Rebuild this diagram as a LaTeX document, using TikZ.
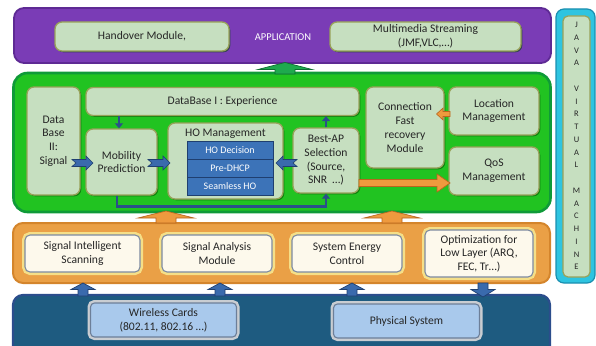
\documentclass[tikz,border=0pt]{standalone}
\usepackage{fontspec}
\setmainfont{Carlito}
\usetikzlibrary{shadows,arrows.meta,calc}
\definecolor{purpleband}{HTML}{7A3CB6}
\definecolor{purpleedge}{HTML}{5E2A94}
\definecolor{greenband}{HTML}{21C321}
\definecolor{greenedge}{HTML}{0F9A38}
\definecolor{boxgreen}{HTML}{C6DFC0}
\definecolor{boxedge}{HTML}{98A25A}
\definecolor{orangeband}{HTML}{EAA046}
\definecolor{orangeedge}{HTML}{D4852C}
\definecolor{cream}{HTML}{FDF9EC}
\definecolor{halo}{HTML}{F5DF88}
\definecolor{creamedge}{HTML}{7D8AA0}
\definecolor{darkband}{HTML}{1E5B80}
\definecolor{darkedge}{HTML}{2B4D8C}
\definecolor{lightblue}{HTML}{A9C9EC}
\definecolor{blueedge}{HTML}{6D7F99}
\definecolor{bluehalo}{HTML}{C9CDD2}
\definecolor{hoblue}{HTML}{3C73B8}
\definecolor{hoedge}{HTML}{1F3F70}
\definecolor{arrblue}{HTML}{3A6AAD}
\definecolor{linkblue}{HTML}{2B4F8A}
\definecolor{jvmcyan}{HTML}{2EC4E0}
\definecolor{jvmedge}{HTML}{1A8FB0}
\definecolor{arrorange}{HTML}{EE9A3E}
\definecolor{arrorangeedge}{HTML}{B8661E}
\definecolor{arrgreen}{HTML}{1EAA4E}
\definecolor{arrgreenedge}{HTML}{0D6E30}
\definecolor{txt}{HTML}{262626}
\newcommand\mychevR[3]{%
  \filldraw[fill=arrblue,draw=hoedge,line width=0.6pt]
    (#1,#3-3.5) -- (#2-7,#3-3.5) -- (#2-7,#3-7) -- (#2,#3) -- (#2-7,#3+7)
    -- (#2-7,#3+3.5) -- (#1,#3+3.5) -- (#1+4,#3) -- cycle;}
\newcommand\mychevL[3]{%
  \filldraw[fill=arrblue,draw=hoedge,line width=0.6pt]
    (#1,#3-3.5) -- (#2+7,#3-3.5) -- (#2+7,#3-7) -- (#2,#3) -- (#2+7,#3+7)
    -- (#2+7,#3+3.5) -- (#1,#3+3.5) -- (#1-4,#3) -- cycle;}
\newcommand\myupblk[8]{% cx, tip, headbase, bottom, headhalf, shafthalf, fill, draw
  \filldraw[fill=#7,draw=#8,line width=0.7pt]
    (#1,#2) -- (#1+#5,#3) -- (#1+#6,#3) -- (#1+#6,#4) -- (#1-#6,#4)
    -- (#1-#6,#3) -- (#1-#5,#3) -- cycle;}
\newcommand\mydownblk[8]{% cx, top, headbase, tip, headhalf, shafthalf, fill, draw
  \filldraw[fill=#7,draw=#8,line width=0.7pt]
    (#1-#6,#2) -- (#1+#6,#2) -- (#1+#6,#3) -- (#1+#5,#3) -- (#1,#4)
    -- (#1-#5,#3) -- (#1-#6,#3) -- cycle;}
\begin{document}
\begin{tikzpicture}[x=1pt,y=-1pt,
  every node/.style={inner sep=1pt, text=txt, font=\fontsize{11.6}{13.7}\selectfont, align=center},
  band/.style={rounded corners=10pt, line width=1.8pt},
  gbox/.style={fill=boxgreen, draw=boxedge, line width=1.3pt, rounded corners=7pt,
    drop shadow={shadow xshift=1.3pt, shadow yshift=-1.3pt, fill=black!70!green, opacity=.55}},
  cbox/.style={fill=cream, draw=creamedge, line width=1.1pt, rounded corners=5pt,
    preaction={draw=halo, line width=6pt}},
  lbbox/.style={fill=lightblue, draw=blueedge, line width=1.1pt, rounded corners=4pt,
    preaction={draw=bluehalo, line width=6pt}},
  hobox/.style={fill=hoblue, draw=hoedge, line width=1pt, text=white,
    font=\fontsize{10}{11}\selectfont, minimum width=86pt, minimum height=18pt},
  tarrow/.style={draw=linkblue, line width=2.6pt, -{Triangle[length=5pt,width=8pt]}},
]
\useasboundingbox (0,0) rectangle (596,345);
\clip (0,0) rectangle (596,345);

% ---------- application band ----------
\node[band, fill=purpleband, draw=purpleedge, minimum width=537pt, minimum height=55pt] (app) at (282.5,35.5) {};
\node[gbox, minimum width=174pt, minimum height=29pt] (hom) at (142,36.5) {Handover Module,};
\node[text=white, font=\fontsize{10.5}{12}\selectfont] (applbl) at (283,37) {APPLICATION};
\node[gbox, minimum width=191pt, minimum height=29pt] (mms) at (425.5,36.5) {Multimedia Streaming\\(JMF,VLC,\ldots)};

% ---------- JVM ----------
\node[rounded corners=8pt, fill=jvmcyan, draw=jvmedge, line width=1.2pt, minimum width=39pt, minimum height=274pt] (jvm) at (575.5,146) {};
\node[fill=boxgreen, draw=boxedge, line width=1.2pt, rounded corners=5pt, minimum width=27pt, minimum height=261pt] (jvmin) at (576.5,146.5) {};
\foreach \ch [count=\i from 0] in {J,A,V,A,,V,I,R,T,U,A,L,,M,A,C,H,I,N,E}{
  \node[font=\fontsize{8.5}{9}\selectfont] (jv\i) at (576.5,25+12.74*\i) {\ch};
}

% ---------- green band ----------
\node[band, fill=greenband, draw=greenedge, line width=2.6pt, rounded corners=14pt, minimum width=537pt, minimum height=139pt] (core) at (282,142.5) {};
\node[gbox, minimum width=53pt, minimum height=108pt] (dbII) at (53.5,141) {Data\\Base\\II:\\Signal};
\node[gbox, minimum width=273pt, minimum height=28pt] (dbI) at (222.5,101.5) {DataBase I : Experience};
\node[gbox, minimum width=71pt, minimum height=66pt] (mob) at (121.5,162) {Mobility\\Prediction};
\node[gbox, minimum width=115pt, minimum height=76pt] (hom2) at (225.5,161) {};
\node (homt) at (225.5,133.5) {HO Management};
\node[hobox] (hod) at (230,150) {HO Decision};
\node[hobox] (pdh) at (230,168) {Pre-DHCP};
\node[hobox] (shl) at (230,186) {Seamless HO};
\node[gbox, minimum width=66pt, minimum height=65pt] (bap) at (326,160.5) {Best-AP\\Selection\\(Source,\\SNR\ \ \ldots)};
\node[gbox, minimum width=78pt, minimum height=81pt] (cfr) at (405,127.5) {Connection\\Fast\\recovery\\Module};
\node[gbox, minimum width=90pt, minimum height=48pt] (loc) at (494,111) {Location\\Management};
\node[gbox, minimum width=90pt, minimum height=48pt] (qos) at (494,171) {QoS\\Management};

% arrows in the green band
\draw[tarrow] (dbI.south -| 119,0) -- (mob.north -| 119,0);
\draw[tarrow] (bap.north) -- (bap.north |- dbI.south);
\draw[tarrow] (mob.south -| 117,0) -- (117,206.5) -| (bap.south);
\mychevR{72}{93}{163}
\mychevR{148}{170}{163}
\mychevL{297}{276}{163}
% orange arrows
\filldraw[fill=arrorange, draw=arrorangeedge, line width=0.7pt]
  (359,179.5) -- (437,179.5) -- (437,174) -- (450,183) -- (437,192) -- (437,186.5) -- (359,186.5) -- cycle;
\filldraw[fill=arrorange, draw=arrorangeedge, line width=0.6pt]
  (450,111.5) -- (443,111.5) -- (443,108) -- (436.5,114) -- (443,120) -- (443,116.5) -- (450,116.5) -- cycle;

% green block arrow up to application
\myupblk{285}{62.5}{69.5}{74}{27}{10}{arrgreen}{arrgreenedge}

% ---------- orange band ----------
\node[band, fill=orangeband, draw=orangeedge, line width=2pt, minimum width=537pt, minimum height=60pt] (svc) at (281.5,253) {};
\myupblk{166}{211}{218}{223}{28}{10}{arrorange}{arrorangeedge}
\myupblk{392}{211}{218}{223}{28}{10}{arrorange}{arrorangeedge}
\node[cbox, minimum width=115pt, minimum height=37pt] (sis) at (82.5,253.5) {Signal Intelligent\\Scanning};
\node[cbox, minimum width=110pt, minimum height=37pt] (sam) at (217,253.5) {Signal Analysis\\Module};
\node[cbox, minimum width=110pt, minimum height=37pt] (sec) at (347,253.5) {System Energy\\Control};
\node[cbox, minimum width=108pt, minimum height=47pt] (opt) at (479,253.5) {Optimization for\\Low Layer (ARQ,\\FEC, Tr\ldots)};

% ---------- physical band ----------
\node[band, fill=darkband, draw=darkedge, line width=2.2pt, minimum width=537pt, minimum height=70pt] (phy) at (281.5,330) {};
\myupblk{83}{283}{289.5}{296}{12}{5}{arrblue}{hoedge}
\myupblk{220}{283}{289.5}{296}{12}{5}{arrblue}{hoedge}
\myupblk{352}{283}{289.5}{296}{12}{5}{arrblue}{hoedge}
\mydownblk{483}{283}{289.5}{297}{12}{5}{arrblue}{hoedge}
\node[lbbox, minimum width=146pt, minimum height=34pt] (wc) at (163.5,320) {Wireless Cards\\(802.11, 802.16 \ldots)};
\node[lbbox, minimum width=146pt, minimum height=34pt] (ps) at (406.5,321) {Physical System};
\end{tikzpicture}
\end{document}
